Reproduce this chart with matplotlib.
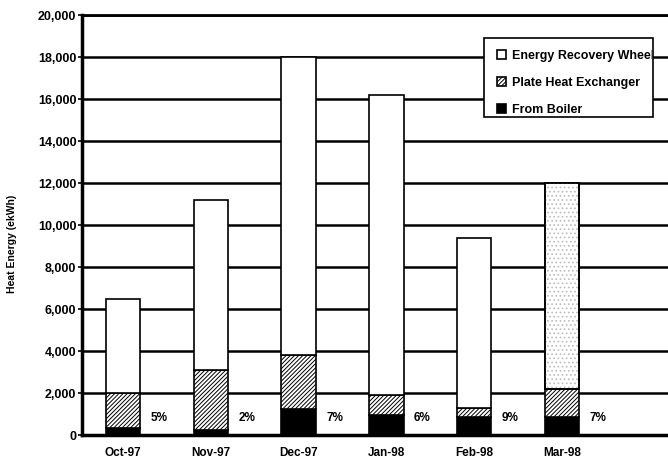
import matplotlib.pyplot as plt
import numpy as np
from matplotlib.patches import Rectangle
from matplotlib.transforms import Bbox, TransformedBbox

plt.rcParams['font.family'] = ['Liberation Sans', 'DejaVu Sans']
plt.rcParams['hatch.linewidth'] = 0.7

months = ["Oct-97", "Nov-97", "Dec-97", "Jan-98", "Feb-98", "Mar-98"]
totals = [6500, 11200, 18000, 16200, 9400, 12000]
plate_top = [2000, 3100, 3800, 1900, 1300, 2200]
boiler = [320, 220, 1260, 970, 850, 840]
pct_labels = ["5%", "2%", "7%", "6%", "9%", "7%"]

plate = [p - b for p, b in zip(plate_top, boiler)]
wheel = [t - p for t, p in zip(totals, plate_top)]

fig = plt.figure(figsize=(6.68, 4.67), dpi=100)
ax = fig.add_axes([82 / 668, 32 / 467, 1 - 82 / 668, 420 / 467])

x = np.arange(len(months))
w = 0.39
ax.bar(x, boiler, w, color="black", edgecolor="black", lw=1.2, label="From Boiler", zorder=3)
ax.bar(x, plate, w, bottom=boiler, color="white", edgecolor="black", hatch="////////",
       lw=1.2, label="Plate Heat Exchanger", zorder=3)
ax.bar(x, wheel, w, bottom=plate_top, color="white", edgecolor="black",
       lw=1.2, label="Energy Recovery Wheel", zorder=3)
# the scanned Mar-98 wheel segment is lightly stippled
ax.bar(x[-1], wheel[-1], w, bottom=plate_top[-1], color="none", edgecolor="#bbbbbb",
       hatch="....", lw=0, zorder=3.5)
ax.bar(x[-1], wheel[-1], w, bottom=plate_top[-1], color="none", edgecolor="black",
       lw=1.2, zorder=3.6)

for i, s in enumerate(pct_labels):
    ax.text(i + w / 2 + 0.12, 800, s, ha="left", va="center", fontsize=8.5, fontweight="bold")

ax.set_xlim(-0.467, 6.207)
ax.set_ylim(0, 20000)
ax.set_yticks(range(0, 20001, 2000))
ax.set_yticklabels([f"{v:,}" for v in range(0, 20001, 2000)], fontsize=9, fontweight="bold")
ax.set_xticks(x)
ax.set_xticklabels(months, fontsize=8.5, fontweight="bold")
ax.tick_params(axis="x", length=0, pad=9)
ax.tick_params(axis="y", length=3, width=1.2, pad=1)
ax.set_axisbelow(True)
ax.yaxis.grid(True, color="black", lw=1.8)
ax.spines["right"].set_visible(False)
ax.spines["top"].set_linewidth(2)
ax.spines["left"].set_linewidth(2.5)
ax.spines["bottom"].set_linewidth(2.5)
ax.set_ylabel("Heat Energy (ekWh)", fontsize=7.5, fontweight="bold")
ax.yaxis.set_label_coords(-0.111, 0.455)

# legend box is narrower than its first label in the original, so draw the frame by hand
box = (484 / 668, 1 - 117 / 467, 169 / 668, 79 / 467)
fig.patches.append(Rectangle(box[:2], box[2], box[3], transform=fig.transFigure,
                             facecolor="white", edgecolor="black", lw=1.2, zorder=4))

h, l = ax.get_legend_handles_labels()
leg = fig.legend(h[::-1], l[::-1], loc="upper left", bbox_to_anchor=(488 / 668, 1 - 41 / 467),
                 prop={"weight": "bold", "size": 9}, frameon=False,
                 labelspacing=1.2, handlelength=0.7, handleheight=0.7,
                 handletextpad=0.5, borderpad=0.7, borderaxespad=0)
clip = TransformedBbox(Bbox.from_bounds(box[0], box[1], box[2] - 0.002, box[3]), fig.transFigure)
for t in leg.get_texts():
    t.set_clip_box(clip)
    t.set_clip_on(True)

fig.savefig("out.png", dpi=100)
